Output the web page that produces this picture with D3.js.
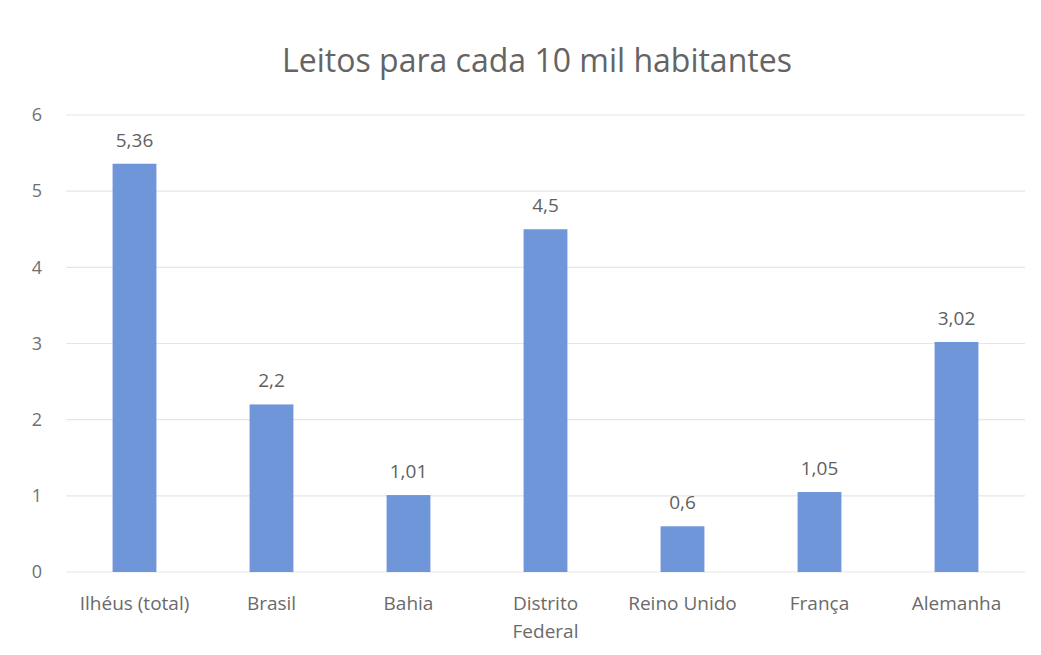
<!DOCTYPE html>
<html>
<head>
<meta charset="utf-8">
<script src="https://cdn.jsdelivr.net/npm/d3@7"></script>
<style>
  body { margin: 0; background: #fff; }
  svg { display: block; font-family: "Open Sans", "Noto Sans", sans-serif; }
</style>
</head>
<body>
<svg id="chart"></svg>
<script>
/* Leitos para cada 10 mil habitantes — simple column chart */

const categories = ['Ilhéus (total)', 'Brasil', 'Bahia', 'Distrito Federal', 'Reino Unido', 'França', 'Alemanha'];
const values = [5.36, 2.2, 1.01, 4.5, 0.6, 1.05, 3.02];
const labels = ['5,36', '2,2', '1,01', '4,5', '0,6', '1,05', '3,02'];
const yTicks = [0, 1, 2, 3, 4, 5, 6];

const W = 1041, H = 655;
const margin = { top: 115, right: 16, bottom: 83, left: 66 };

const svg = d3.select('#chart').attr('width', W).attr('height', H);

const x = d3.scaleBand()
    .domain(categories)
    .range([margin.left, W - margin.right])
    .paddingInner(0.68)
    .paddingOuter(0.34);

const y = d3.scaleLinear()
    .domain([0, 6])
    .range([H - margin.bottom, margin.top]);

// Gridlines
svg.append('g')
    .selectAll('line')
    .data(yTicks)
    .enter()
    .append('line')
    .attr('x1', margin.left)
    .attr('x2', W - margin.right)
    .attr('y1', d => y(d))
    .attr('y2', d => y(d))
    .attr('stroke', '#e6e6e6')
    .attr('stroke-width', 1.2);

// Y axis labels
const yAxis = svg.append('g')
    .attr('transform', `translate(${margin.left}, 0)`)
    .call(d3.axisLeft(y).tickValues(yTicks).tickSize(0).tickPadding(24).tickFormat(d3.format('d')));
yAxis.select('.domain').remove();
yAxis.selectAll('text')
    .attr('fill', '#707070')
    .attr('font-size', '18px')
    .style('font-family', '"Open Sans", sans-serif');

// Bars
svg.append('g')
    .selectAll('rect')
    .data(values)
    .enter()
    .append('rect')
    .attr('x', (d, i) => x(categories[i]))
    .attr('y', d => y(d))
    .attr('width', x.bandwidth())
    .attr('height', d => y(0) - y(d))
    .attr('fill', '#6f96d9');

// Value labels
svg.append('g')
    .selectAll('text')
    .data(values)
    .enter()
    .append('text')
    .attr('x', (d, i) => x(categories[i]) + x.bandwidth() / 2)
    .attr('y', d => y(d) - 17)
    .attr('text-anchor', 'middle')
    .attr('fill', '#5f5f5f')
    .attr('font-size', '19px')
    .text((d, i) => labels[i]);

// Category labels (Distrito Federal wraps)
const xAxis = svg.append('g')
    .attr('transform', `translate(0, ${y(0)})`)
    .call(d3.axisBottom(x).tickSize(0).tickPadding(0));
xAxis.select('.domain').remove();
xAxis.selectAll('text').remove();
xAxis.selectAll('.tick').each(function(d) {
    const lines = d === 'Distrito Federal' ? ['Distrito', 'Federal'] : [d];
    const t = d3.select(this).append('text')
        .attr('text-anchor', 'middle')
        .attr('fill', '#6a6a6a')
        .attr('font-size', '19px')
        .style('font-family', '"Open Sans", sans-serif');
    lines.forEach((line, i) => {
        t.append('tspan')
            .attr('x', 0)
            .attr('y', 38 + i * 28)
            .text(line);
    });
});

// Title
svg.append('text')
    .attr('x', 537)
    .attr('y', 72)
    .attr('text-anchor', 'middle')
    .attr('fill', '#646464')
    .attr('font-size', '32px')
    .text('Leitos para cada 10 mil habitantes');
</script>
</body>
</html>
